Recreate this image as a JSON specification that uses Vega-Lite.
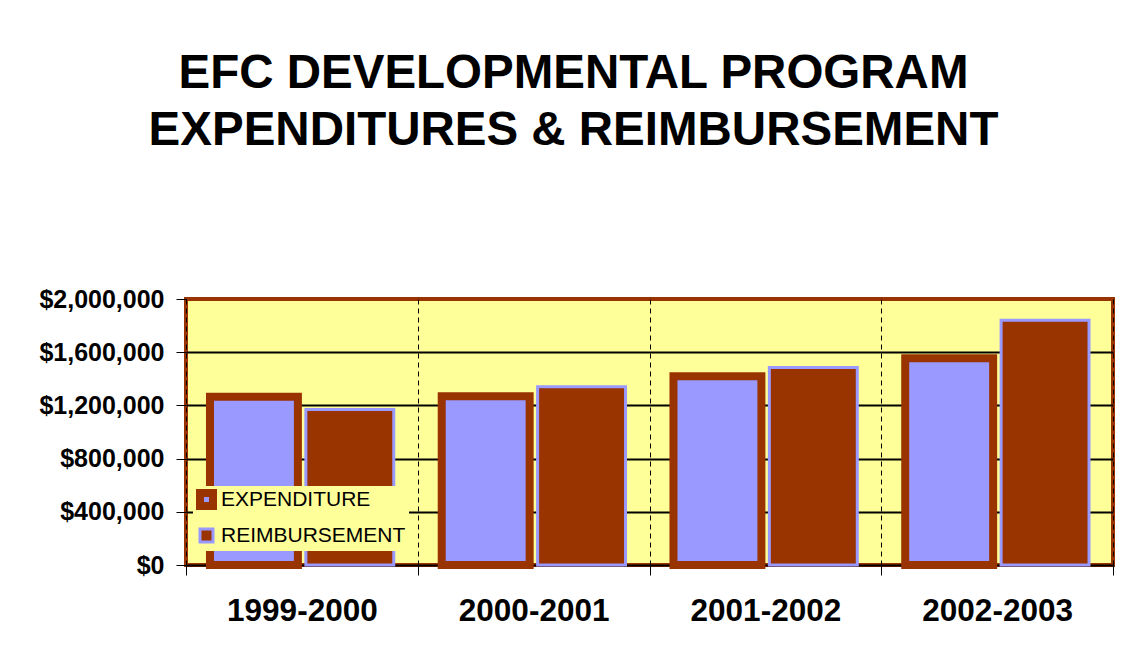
{
  "$schema": "https://vega.github.io/schema/vega-lite/v6.json",
  "width": 927,
  "height": 266,
  "autosize": {"type": "none"},
  "padding": {"left": 186, "top": 299, "right": 14, "bottom": 97},
  "background": "white",
  "title": {
    "text": ["EFC DEVELOPMENTAL PROGRAM", "EXPENDITURES & REIMBURSEMENT"],
    "font": "Liberation Sans",
    "fontSize": 47.5,
    "fontWeight": "bold",
    "color": "black",
    "anchor": "middle",
    "dx": -76,
    "offset": 133,
    "lineHeight": 57
  },
  "data": {
    "values": [
      {"year": "1999-2000", "series": "EXPENDITURE", "amount": 1265000},
      {"year": "1999-2000", "series": "REIMBURSEMENT", "amount": 1170000},
      {"year": "2000-2001", "series": "EXPENDITURE", "amount": 1268000},
      {"year": "2000-2001", "series": "REIMBURSEMENT", "amount": 1340000},
      {"year": "2001-2002", "series": "EXPENDITURE", "amount": 1420000},
      {"year": "2001-2002", "series": "REIMBURSEMENT", "amount": 1485000},
      {"year": "2002-2003", "series": "EXPENDITURE", "amount": 1555000},
      {"year": "2002-2003", "series": "REIMBURSEMENT", "amount": 1840000}
    ]
  },
  "mark": {"type": "bar", "fillOpacity": 1},
  "encoding": {
    "x": {
      "field": "year",
      "type": "nominal",
      "scale": {"paddingInner": 0, "paddingOuter": 0},
      "axis": {
        "title": null,
        "labelAngle": 0,
        "tickBand": "extent",
        "grid": true,
        "gridDash": [5, 4],
        "gridColor": "black",
        "gridWidth": 1,
        "gridOpacity": 1,
        "tickColor": "black",
        "tickSize": 10,
        "domain": false,
        "labelFont": "Liberation Sans",
        "labelFontSize": 31.5,
        "labelFontWeight": "bold",
        "labelColor": "black",
        "labelPadding": 20
      }
    },
    "xOffset": {
      "field": "series",
      "type": "nominal",
      "scale": {"domain": ["EXPENDITURE", "REIMBURSEMENT"], "paddingInner": 0.083, "paddingOuter": 0.25}
    },
    "y": {
      "field": "amount",
      "type": "quantitative",
      "scale": {"domain": [0, 2000000], "nice": false},
      "axis": {
        "title": null,
        "values": [0, 400000, 800000, 1200000, 1600000, 2000000],
        "format": "$,.0f",
        "labelFont": "Liberation Sans",
        "labelFontSize": 25,
        "labelFontWeight": "bold",
        "labelColor": "black",
        "labelPadding": 12,
        "tickColor": "black",
        "tickSize": 10,
        "domain": false,
        "grid": true,
        "gridColor": {"condition": {"test": "datum.value === 2000000", "value": "transparent"}, "value": "black"},
        "gridWidth": 2,
        "gridOpacity": 1
      }
    },
    "fill": {
      "field": "series",
      "type": "nominal",
      "scale": {"domain": ["EXPENDITURE", "REIMBURSEMENT"], "range": ["#9999FF", "#993300"]},
      "legend": {
        "orient": "none",
        "legendX": 7,
        "legendY": 187,
        "fillColor": "#FFFF99",
        "padding": 3,
        "title": null,
        "symbolType": "square",
        "symbolSize": 169,
        "symbolOpacity": 1,
        "labelFont": "Liberation Sans",
        "labelFontSize": 21,
        "labelLimit": 400,
        "labelColor": "black",
        "labelOffset": 4,
        "rowPadding": 1,
        "encode": {
          "symbols": {
            "update": {
              "stroke": {"signal": "datum.value === 'EXPENDITURE' ? '#993300' : '#9999FF'"},
              "strokeWidth": {"signal": "datum.value === 'EXPENDITURE' ? 8 : 3"}
            }
          }
        }
      }
    },
    "stroke": {
      "field": "series",
      "type": "nominal",
      "scale": {"domain": ["EXPENDITURE", "REIMBURSEMENT"], "range": ["#993300", "#9999FF"]},
      "legend": null
    },
    "strokeWidth": {
      "condition": {"test": "datum.series === 'EXPENDITURE'", "value": 8},
      "value": 3
    }
  },
  "config": {
    "view": {"fill": "#FFFF99", "stroke": "#993300", "strokeWidth": 4}
  }
}
